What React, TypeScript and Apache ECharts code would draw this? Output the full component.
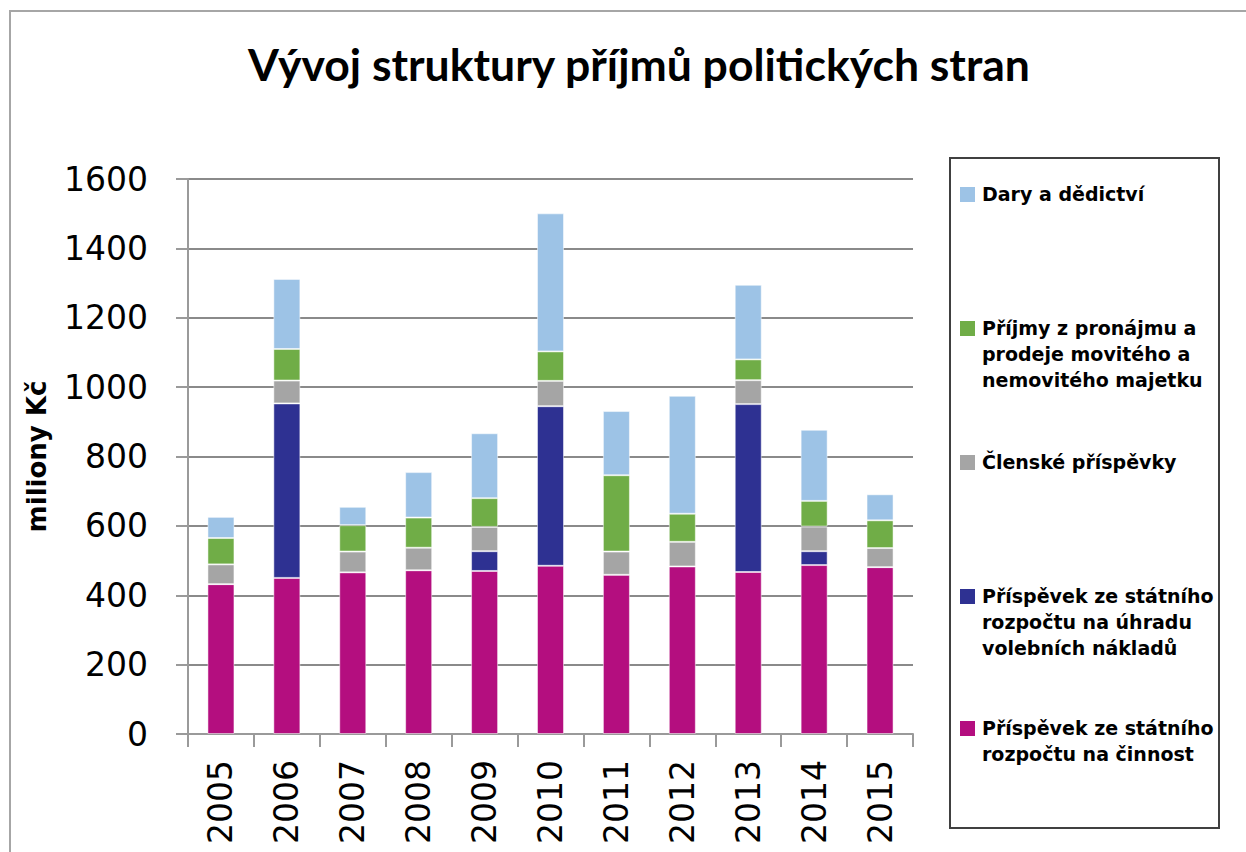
import React, { useEffect, useRef } from "react";
import * as echarts from "echarts";

const title = "Vývoj struktury příjmů politických stran";
const yAxisName = "miliony Kč";
const years = ["2005", "2006", "2007", "2008", "2009", "2010", "2011", "2012", "2013", "2014", "2015"];
const yTicks = [0, 200, 400, 600, 800, 1000, 1200, 1400, 1600];

const seriesNames = [
  "Příspěvek ze státního rozpočtu na činnost",
  "Příspěvek ze státního rozpočtu na úhradu volebních nákladů",
  "Členské příspěvky",
  "Příjmy z pronájmu a prodeje movitého a nemovitého majetku",
  "Dary a dědictví",
];
const seriesColors = ["#B40E7F", "#2E3192", "#A5A5A5", "#70AD47", "#9DC3E6"];

const cinnost = [432, 450, 466, 472, 470, 485, 459, 483, 467, 487, 481];
const volebni = [0, 503, 0, 0, 57, 460, 0, 0, 484, 40, 0];
const clenske = [57, 66, 60, 65, 70, 73, 67, 71, 69, 71, 55];
const pronajem = [76, 91, 76, 87, 83, 85, 220, 81, 60, 74, 80];
const dary = [61, 202, 53, 131, 187, 398, 185, 340, 215, 205, 75];

const seriesData = [cinnost, volebni, clenske, pronajem, dary];

// legend lines (top to bottom) as shown in the box
const legendLines: string[][] = [
  ["Dary a dědictví"],
  ["Příjmy z pronájmu a", "prodeje movitého a", "nemovitého majetku"],
  ["Členské příspěvky"],
  ["Příspěvek ze státního", "rozpočtu na úhradu", "volebních nákladů"],
  ["Příspěvek ze státního", "rozpočtu na činnost"],
];
const legendColorIdx = [4, 3, 2, 1, 0];
const legendFirstLineY = [194, 328, 462, 596, 728];

export default function App() {
  const ref = useRef<HTMLDivElement>(null);
  useEffect(() => {
    if (!ref.current) return;
    const chart = echarts.init(ref.current, null, { renderer: "svg" });
    const titleFont = "Lato, 'Open Sans', sans-serif";
    const font = "'DejaVu Sans', sans-serif";
    const graphics: any[] = [
      {
        type: "rect",
        shape: { x: 10, y: 11, width: 1300, height: 900 },
        style: { fill: "none", stroke: "#A6A6A6", lineWidth: 2 },
        silent: true,
        z: -10,
      },
      {
        type: "rect",
        shape: { x: 950, y: 158, width: 269, height: 670 },
        style: { fill: "#fff", stroke: "#404040", lineWidth: 2 },
        silent: true,
      },
    ];
    legendLines.forEach((lines, i) => {
      const y0 = legendFirstLineY[i];
      graphics.push({
        type: "rect",
        shape: { x: 960, y: y0 - 7, width: 15, height: 15 },
        style: { fill: seriesColors[legendColorIdx[i]] },
        silent: true,
      });
      lines.forEach((ln, j) => {
        graphics.push({
          type: "text",
          x: 982,
          y: y0 + j * 26,
          style: {
            text: ln,
            font: `bold 19px ${font}`,
            fill: "#000",
            verticalAlign: "middle",
          },
          silent: true,
        });
      });
    });

    chart.setOption({
      animation: false,
      backgroundColor: "#fff",
      title: {
        text: title,
        left: 634,
        textAlign: "center",
        top: 36,
        textStyle: { fontFamily: titleFont, fontWeight: "bold", fontSize: 44.5, color: "#000" },
      },
      grid: { left: 188, right: 333, top: 179, bottom: 118, containLabel: false },
      xAxis: {
        type: "category",
        data: years,
        axisLine: { lineStyle: { color: "#9A9A9A", width: 2 } },
        axisTick: { show: true, length: 13, lineStyle: { color: "#9A9A9A", width: 2 } },
        axisLabel: { rotate: 90, fontSize: 33, fontFamily: font, color: "#000", margin: 26 },
      },
      yAxis: {
        type: "value",
        min: yTicks[0],
        max: yTicks[yTicks.length - 1],
        interval: 200,
        name: yAxisName,
        nameLocation: "middle",
        nameGap: 138,
        nameTextStyle: { fontFamily: font, fontWeight: "bold", fontSize: 26, color: "#000" },
        axisLine: { show: true, lineStyle: { color: "#9A9A9A", width: 2 } },
        axisTick: { show: true, length: 12, lineStyle: { color: "#9A9A9A", width: 2 } },
        axisLabel: {
          fontSize: 33,
          fontFamily: font,
          color: "#000",
          margin: 40,
          formatter: (v: number) => String(v),
        },
        splitLine: { lineStyle: { color: "#8A8A8A", width: 2 } },
      },
      series: seriesNames.map((name, i) => ({
        name,
        type: "bar",
        stack: "total",
        data: seriesData[i],
        barWidth: "41%",
        itemStyle: { color: seriesColors[i], borderColor: "rgba(255,255,255,0.5)", borderWidth: 1 },
      })),
      graphic: graphics,
    });
    return () => chart.dispose();
  }, []);
  return (
    <div
      ref={ref}
      style={{ position: "fixed", left: 0, top: 0, width: 1246, height: 852 }}
    />
  );
}
